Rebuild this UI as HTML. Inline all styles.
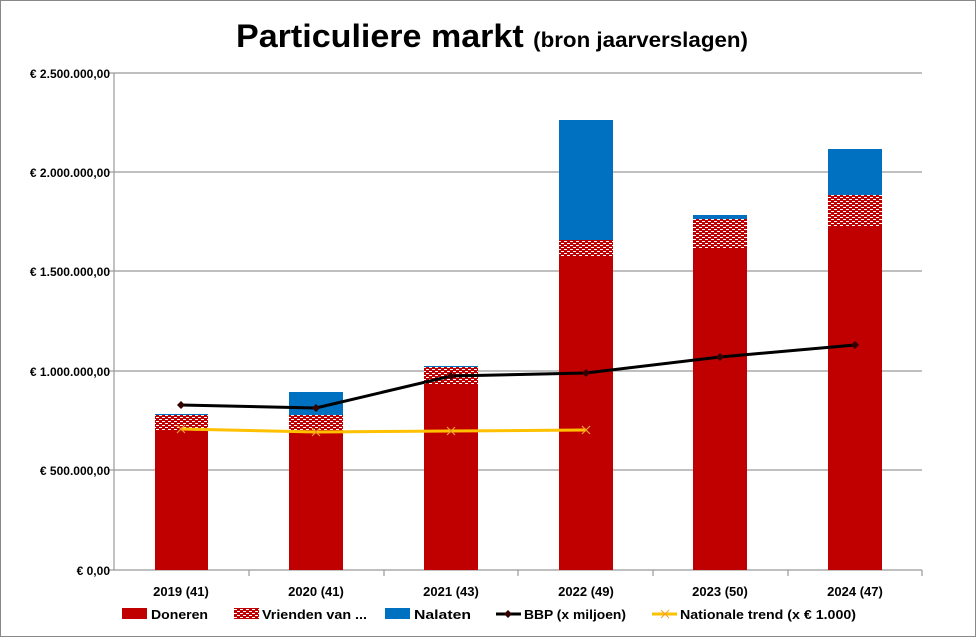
<!DOCTYPE html>
<html><head><meta charset="utf-8"><style>body{margin:0;background:#fff}svg{display:block}</style></head><body>
<svg width="976" height="637" xmlns="http://www.w3.org/2000/svg" font-family="Liberation Sans, sans-serif" font-weight="bold">
<defs>
<pattern id="h" width="6" height="4" patternUnits="userSpaceOnUse">
<rect width="6" height="4" fill="#c00000"/><rect x="0" y="1" width="3" height="1" fill="#fff"/><rect x="3" y="3" width="3" height="1" fill="#fff"/>
</pattern>
</defs>
<rect x="0.5" y="0.5" width="975" height="636" fill="#fff" stroke="#888"/>
<text x="492" y="47" text-anchor="middle" font-size="32" textLength="512" lengthAdjust="spacingAndGlyphs"><tspan>Particuliere markt </tspan><tspan font-size="21">(bron jaarverslagen)</tspan></text>
<g stroke="#999" stroke-width="1.2">
<line x1="114" y1="73" x2="922" y2="73"/><line x1="114" y1="172" x2="922" y2="172"/><line x1="114" y1="271" x2="922" y2="271"/><line x1="114" y1="371" x2="922" y2="371"/><line x1="114" y1="470" x2="922" y2="470"/>
<line x1="114" y1="73" x2="114" y2="570"/><line x1="109" y1="570" x2="922" y2="570"/>
<line x1="109" y1="73" x2="114" y2="73"/><line x1="109" y1="172" x2="114" y2="172"/><line x1="109" y1="271" x2="114" y2="271"/><line x1="109" y1="371" x2="114" y2="371"/><line x1="109" y1="470" x2="114" y2="470"/>
<line x1="249" y1="570" x2="249" y2="576"/><line x1="384" y1="570" x2="384" y2="576"/><line x1="518" y1="570" x2="518" y2="576"/><line x1="653" y1="570" x2="653" y2="576"/><line x1="788" y1="570" x2="788" y2="576"/><line x1="922" y1="570" x2="922" y2="576"/>
</g>
<g font-size="12" text-anchor="end">
<text x="110" y="78">€ 2.500.000,00</text><text x="110" y="177">€ 2.000.000,00</text><text x="110" y="276">€ 1.500.000,00</text><text x="110" y="376">€ 1.000.000,00</text><text x="110" y="475">€ 500.000,00</text><text x="110" y="575">€ 0,00</text>
</g>
<g>
<rect x="155" y="430" width="53" height="140" fill="#c00000"/><rect x="155" y="415" width="53" height="15" fill="url(#h)"/><rect x="155" y="414" width="53" height="1" fill="#0070c0"/>
<rect x="289" y="433" width="54" height="137" fill="#c00000"/><rect x="289" y="415" width="54" height="18" fill="url(#h)"/><rect x="289" y="392" width="54" height="23" fill="#0070c0"/>
<rect x="424" y="384" width="54" height="186" fill="#c00000"/><rect x="424" y="367" width="54" height="17" fill="url(#h)"/><rect x="424" y="366" width="54" height="1" fill="#0070c0"/>
<rect x="559" y="256" width="54" height="314" fill="#c00000"/><rect x="559" y="240" width="54" height="16" fill="url(#h)"/><rect x="559" y="120" width="54" height="120" fill="#0070c0"/>
<rect x="693" y="248" width="54" height="322" fill="#c00000"/><rect x="693" y="219" width="54" height="29" fill="url(#h)"/><rect x="693" y="215" width="54" height="4" fill="#0070c0"/>
<rect x="828" y="226" width="54" height="344" fill="#c00000"/><rect x="828" y="195" width="54" height="31" fill="url(#h)"/><rect x="828" y="149" width="54" height="46" fill="#0070c0"/>
</g>
<polyline points="181,429 316,432 451,431 586,430" fill="none" stroke="#ffc000" stroke-width="3"/>
<g stroke="#f0a030" stroke-width="1.2">
<path d="M177,425l8,8M185,425l-8,8M312,428l8,8M320,428l-8,8M447,427l8,8M455,427l-8,8M582,426l8,8M590,426l-8,8"/>
</g>
<polyline points="181,405 316,408 451,376 586,373 720,357 855,345" fill="none" stroke="#000" stroke-width="3"/>
<g fill="#300">
<path d="M181,401l4,4-4,4-4-4z"/><path d="M316,404l4,4-4,4-4-4z"/><path d="M451,372l4,4-4,4-4-4z"/><path d="M586,369l4,4-4,4-4-4z"/><path d="M720,353l4,4-4,4-4-4z"/><path d="M855,341l4,4-4,4-4-4z"/>
</g>
<g font-size="13" text-anchor="middle">
<text x="181" y="596">2019 (41)</text><text x="316" y="596">2020 (41)</text><text x="451" y="596">2021 (43)</text><text x="586" y="596">2022 (49)</text><text x="720" y="596">2023 (50)</text><text x="855" y="596">2024 (47)</text>
</g>
<g font-size="13">
<rect x="122" y="608" width="25" height="11" fill="#c00000"/><text x="151" y="619" textLength="57" lengthAdjust="spacingAndGlyphs">Doneren</text>
<rect x="234" y="608" width="25" height="11" fill="url(#h)"/><text x="262" y="619" textLength="105" lengthAdjust="spacingAndGlyphs">Vrienden van ...</text>
<rect x="385" y="608" width="25" height="11" fill="#0070c0"/><text x="414" y="619" textLength="57" lengthAdjust="spacingAndGlyphs">Nalaten</text>
<line x1="496" y1="614" x2="521" y2="614" stroke="#000" stroke-width="3"/><path d="M508,610l4,4-4,4-4-4z" fill="#300"/><text x="524" y="619" textLength="102" lengthAdjust="spacingAndGlyphs">BBP (x miljoen)</text>
<line x1="652" y1="614" x2="677" y2="614" stroke="#ffc000" stroke-width="3"/><path d="M661,610l8,8M669,610l-8,8" stroke="#f0a030"/><text x="680" y="619" textLength="176" lengthAdjust="spacingAndGlyphs">Nationale trend (x € 1.000)</text>
</g>
</svg>
</body></html>
